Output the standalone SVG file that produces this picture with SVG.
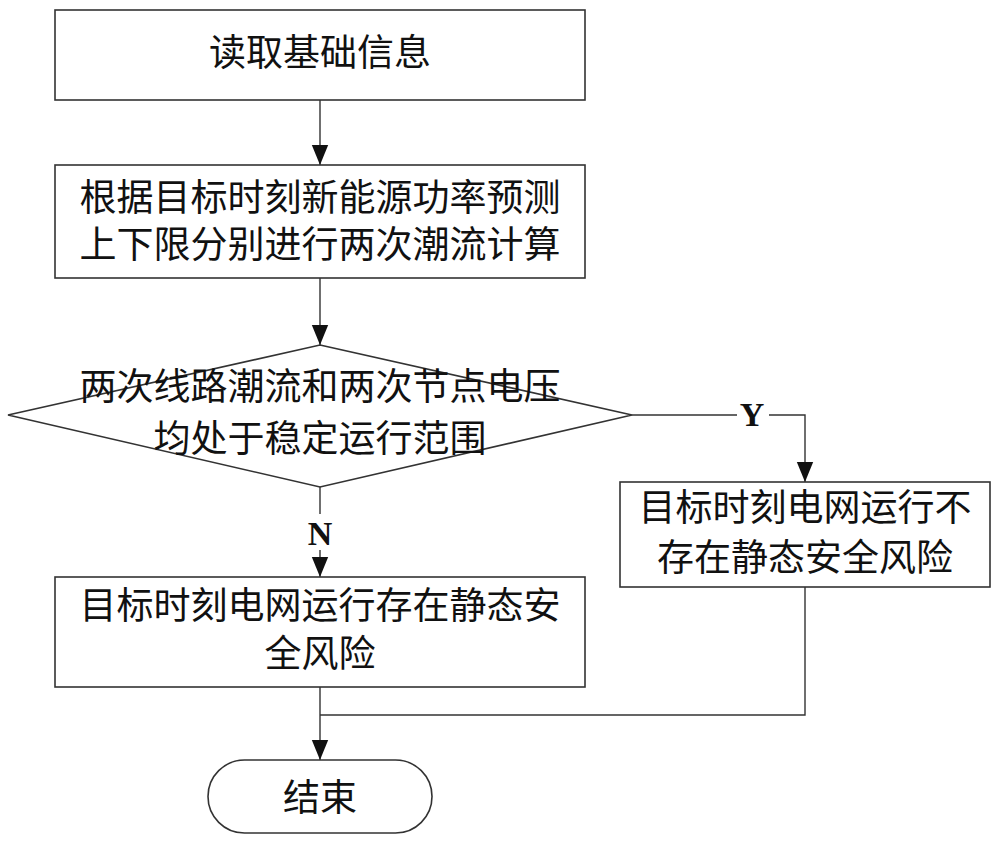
<svg xmlns="http://www.w3.org/2000/svg" width="1000" height="843" viewBox="0 0 1000 843">
<style>
.box{fill:#fff;stroke:#333;stroke-width:1.6}
.t{font-family:"Liberation Sans","Noto Sans CJK SC",sans-serif;font-size:37px;fill:#111;text-anchor:middle}
.lbl{font-family:"Liberation Serif",serif;font-weight:bold;font-size:34px;fill:#111;text-anchor:middle}
.c{fill:none;stroke:#333;stroke-width:1.4}
</style>
<defs>
<marker id="ah" markerWidth="20" markerHeight="22" viewBox="0 0 22 20" refX="22" refY="10" orient="auto" markerUnits="userSpaceOnUse">
<path d="M0,1 L22,10 L0,19 Z" fill="#111"/>
</marker>
</defs>
<rect width="1000" height="843" fill="#fff"/>
<g id="connectors">
<line class="c" x1="320" y1="100" x2="320" y2="165" marker-end="url(#ah)"/>
<line class="c" x1="320" y1="278" x2="320" y2="345" marker-end="url(#ah)"/>
<polyline class="c" points="632,415 805,415 805,482" marker-end="url(#ah)"/>
<line class="c" x1="320" y1="487" x2="320" y2="577" marker-end="url(#ah)"/>
<line class="c" x1="320" y1="687" x2="320" y2="760" marker-end="url(#ah)"/>
<polyline class="c" points="805,587 805,715 320,715"/>
<rect x="737" y="398" width="32" height="34" fill="#fff"/>
<text class="lbl" x="752" y="426">Y</text>
<rect x="304" y="514" width="32" height="36" fill="#fff"/>
<text class="lbl" x="320" y="545">N</text>
</g>
<g id="n1">
<rect class="box" x="55" y="10" width="530" height="90"/>
<text class="t" x="320" y="66">读取基础信息</text>
</g>
<g id="n2">
<rect class="box" x="55" y="165" width="530" height="113"/>
<text class="t" x="320" y="211">根据目标时刻新能源功率预测</text>
<text class="t" x="320" y="258">上下限分别进行两次潮流计算</text>
</g>
<g id="n3">
<polygon class="box" points="320,345 632,415 320,487 8,415" style="fill:none"/>
<text class="t" x="320" y="400">两次线路潮流和两次节点电压</text>
<text class="t" x="320" y="452">均处于稳定运行范围</text>
</g>
<g id="n4">
<rect class="box" x="620" y="482" width="370" height="105"/>
<text class="t" x="805" y="521">目标时刻电网运行不</text>
<text class="t" x="805" y="571">存在静态安全风险</text>
</g>
<g id="n5">
<rect class="box" x="55" y="577" width="530" height="110"/>
<text class="t" x="320" y="619">目标时刻电网运行存在静态安</text>
<text class="t" x="320" y="667">全风险</text>
</g>
<g id="n6">
<rect class="box" x="208" y="760" width="224" height="73" rx="36.5" ry="36.5"/>
<text class="t" x="320" y="811">结束</text>
</g>
</svg>
